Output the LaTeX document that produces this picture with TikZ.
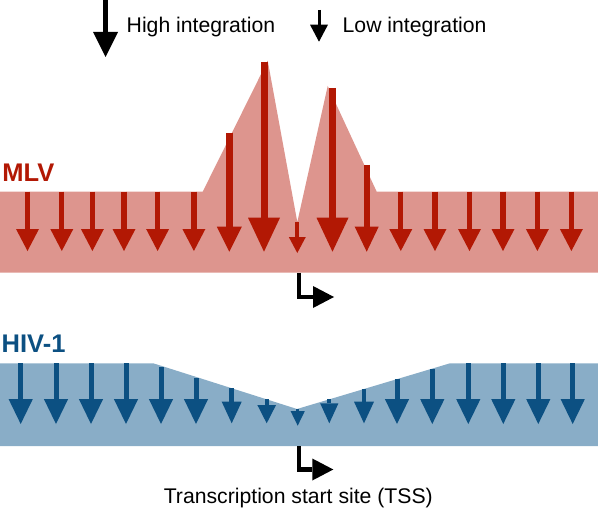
\documentclass[tikz,border=0pt]{standalone}
\usepackage{fontspec}
\setmainfont{Liberation Sans}
\usetikzlibrary{arrows.meta}
\definecolor{mlvband}{RGB}{221,149,142}
\definecolor{mlvred}{RGB}{178,24,4}
\definecolor{hivband}{RGB}{137,173,199}
\definecolor{hivblue}{RGB}{12,80,130}

\tikzset{
  downarr/.style 2 args={-{Triangle[length=#1,width=#2,line width=0pt]}},
  lbl/.style={font=\fontsize{21.2}{25}\selectfont, anchor=base west, inner sep=0pt},
  virlbl/.style={font=\bfseries\fontsize{25.5}{30}\selectfont, anchor=base west, inner sep=0pt},
  tssarr/.style={draw=black, line width=4.5pt, line join=miter, -{Triangle[length=21pt,width=22pt,line width=0pt]}}
}

\begin{document}
\begin{tikzpicture}[x=1pt,y=-1pt]
  \useasboundingbox (0,0) rectangle (598,511);
  % Legend
  \draw[black, line width=5pt, downarr={25pt}{25pt}] (105.5,0) -- (105.5,57);
  \node[lbl] (highlbl) at (126.5,32.3) {High integration};
  \draw[black, line width=3pt, downarr={17pt}{18pt}] (319,10) -- (319,41.7);
  \node[lbl] (lowlbl) at (342.5,32.3) {Low integration};
  % MLV profile
  \fill[mlvband] (0,191.7) -- (202.7,191.7) -- (267.7,60.7) -- (297.3,222) -- (327.7,86)
    -- (376.7,191.7) -- (598,191.7) -- (598,272.5) -- (0,272.5) -- cycle;
  \node[virlbl, text=mlvred] (mlvlbl) at (2.2,182) {MLV};
  \foreach \x in {27.5,61.8,92.4,124,157.6,193.9,400.8,435,469.5,503,537.4,571.4}
    \draw[mlvred, line width=5.3pt, downarr={22pt}{23pt}] (\x,191.7) -- (\x,251);
  % MLV hotspots near the TSS
  \draw[mlvred, line width=6.5pt, downarr={25pt}{25pt}] (229.3,133) -- (229.3,251.7);
  \draw[mlvred, line width=7pt, downarr={34pt}{32pt}] (264,62) -- (264,251.7);
  \draw[mlvred, line width=4pt, downarr={16pt}{17pt}] (297.3,222) -- (297.3,253);
  \draw[mlvred, line width=7pt, downarr={34pt}{32pt}] (332.5,88) -- (332.5,251.7);
  \draw[mlvred, line width=6pt, downarr={25pt}{24pt}] (366.7,165) -- (366.7,251.7);
  % MLV TSS
  \coordinate (mlvtss) at (299,272.5);
  \coordinate (mlvtssend) at (334,297);
  \draw[tssarr] (mlvtss) |- (mlvtssend);
  % HIV-1 profile
  \fill[hivband] (0,363.3) -- (153.3,363.3) -- (297,409) -- (450,363.3) -- (598,363.3)
    -- (598,446) -- (0,446) -- cycle;
  \node[virlbl, text=hivblue] (hivlbl) at (1.5,352.7) {HIV-1};
  \foreach \x/\t in {20.7/363.3,56/363.3,91/363.3,126/363.3,161/366.7,196/377.5,
                     397/379,432.3/369,468.3/363.3,503.3/363.3,538.3/363.3,572.7/363.3}
    \draw[hivblue, line width=5pt, downarr={25pt}{24.3pt}] (\x,\t) -- (\x,424);
  % HIV-1 dip at the TSS
  \draw[hivblue, line width=4.5pt, downarr={21.6pt}{20pt}] (231.7,388.3) -- (231.7,423.3);
  \draw[hivblue, line width=4pt, downarr={18.3pt}{18.7pt}] (266.7,399.4) -- (266.7,423.3);
  \draw[hivblue, line width=3.5pt, downarr={14.7pt}{14.3pt}] (297.7,409) -- (297.7,425.7);
  \draw[hivblue, line width=4pt, downarr={20pt}{18.3pt}] (329.3,399.4) -- (329.3,423.3);
  \draw[hivblue, line width=4.5pt, downarr={21.6pt}{20pt}] (364,389.3) -- (364,423.3);
  % HIV-1 TSS
  \coordinate (hivtss) at (299,446);
  \coordinate (hivtssend) at (333.3,469.5);
  \draw[tssarr] (hivtss) |- (hivtssend);
  \node[lbl, anchor=base] (tsslbl) at (298.3,503.3) {Transcription start site (TSS)};
\end{tikzpicture}
\end{document}
